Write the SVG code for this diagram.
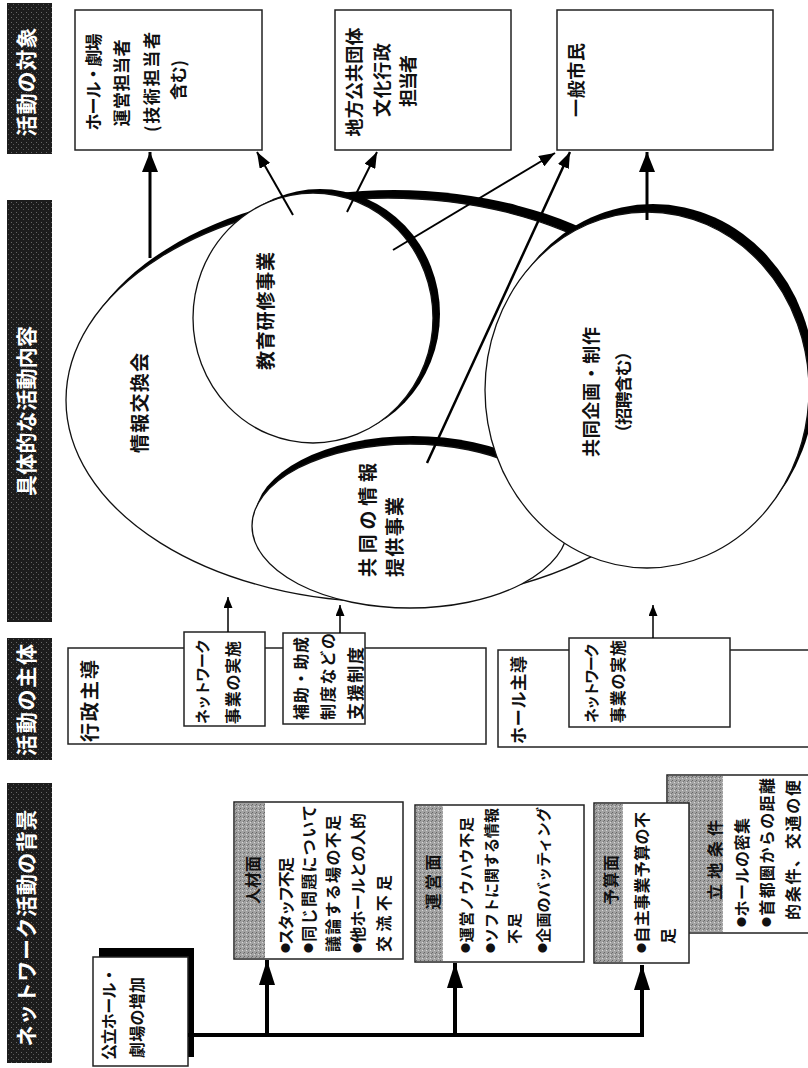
<svg xmlns="http://www.w3.org/2000/svg" width="808" height="1068" viewBox="0 0 808 1068">
<style>
.t{font-family:"Noto Sans CJK JP","Noto Sans CJK SC",sans-serif;fill:#111;dominant-baseline:central;font-weight:bold}
.h{font-size:21px;fill:#fff}
.f19{font-size:19px}
.f18{font-size:18px}
.f17{font-size:17px}
.f16{font-size:16px}
.f15{font-size:15px}
.bu{font-size:10px}
.box{fill:#fff;stroke:#222;stroke-width:1.5}
.el{fill:#fff;stroke:#111;stroke-width:1.3}
.sh{fill:#000}
.ln{stroke:#000;fill:none}
.hdr{fill:url(#dark)}
.strip{fill:url(#gray)}
</style>
<defs>
<pattern id="dark" width="5" height="5" patternUnits="userSpaceOnUse"><rect width="5" height="5" fill="#1c1c1c"/><rect x="1" y="2" width="1" height="1" fill="#666"/><rect x="3" y="4" width="1" height="1" fill="#555"/></pattern>
<pattern id="gray" width="4" height="4" patternUnits="userSpaceOnUse"><rect width="4" height="4" fill="#a2a2a2"/><rect x="0" y="0" width="1" height="1" fill="#666"/><rect x="2" y="2" width="1" height="1" fill="#d8d8d8"/><rect x="3" y="1" width="1" height="1" fill="#777"/></pattern>
<marker id="a1" viewBox="0 0 20 16" refX="20" refY="8" markerWidth="20" markerHeight="16" markerUnits="userSpaceOnUse" orient="auto"><path d="M0,0L20,8L0,16z"/></marker>
<marker id="a2" viewBox="0 0 16 12" refX="16" refY="6" markerWidth="16" markerHeight="12" markerUnits="userSpaceOnUse" orient="auto"><path d="M0,0L16,6L0,12z"/></marker>
<marker id="a3" viewBox="0 0 11 9" refX="11" refY="4.5" markerWidth="11" markerHeight="9" markerUnits="userSpaceOnUse" orient="auto"><path d="M0,0L11,4.5L0,9z"/></marker>
<marker id="a4" viewBox="0 0 25 16" refX="25" refY="8" markerWidth="25" markerHeight="16" markerUnits="userSpaceOnUse" orient="auto"><path d="M0,0L25,8L0,16z"/></marker>
</defs>

<g id="headers">
<rect class="hdr" x="7" y="3" width="45" height="151"/>
<rect class="hdr" x="7" y="200" width="45" height="422"/>
<rect class="hdr" x="7" y="638" width="45" height="122"/>
<rect class="hdr" x="7" y="783" width="45" height="280"/>
<text class="t h" transform="translate(25 82) rotate(-90)" text-anchor="middle" textLength="109" lengthAdjust="spacing">活動の対象</text>
<text class="t h" transform="translate(25 411) rotate(-90)" text-anchor="middle" textLength="170" lengthAdjust="spacing">具体的な活動内容</text>
<text class="t h" transform="translate(25 700) rotate(-90)" text-anchor="middle" textLength="112" lengthAdjust="spacing">活動の主体</text>
<text class="t h" transform="translate(25 928) rotate(-90)" text-anchor="middle" textLength="237" lengthAdjust="spacing">ネットワーク活動の背景</text>
</g>

<g id="target-hall">
<rect class="box" x="75" y="10" width="187" height="140"/>
<text class="t f17" transform="translate(92 82) rotate(-90)" text-anchor="middle" textLength="97" lengthAdjust="spacing">ホール・劇場</text>
<text class="t f17" transform="translate(120 83) rotate(-90)" text-anchor="middle" textLength="87" lengthAdjust="spacing">運営担当者</text>
<text class="t f17" transform="translate(150 82) rotate(-90)" text-anchor="middle" textLength="100" lengthAdjust="spacing">(技術担当者</text>
<text class="t f17" transform="translate(177 80) rotate(-90)" text-anchor="middle" textLength="40" lengthAdjust="spacing">含む)</text>
</g>
<g id="target-gov">
<rect class="box" x="335" y="10" width="176" height="140"/>
<text class="t f18" transform="translate(353 82) rotate(-90)" text-anchor="middle" textLength="109" lengthAdjust="spacing">地方公共団体</text>
<text class="t f18" transform="translate(381 80) rotate(-90)" text-anchor="middle" textLength="74" lengthAdjust="spacing">文化行政</text>
<text class="t f18" transform="translate(407 81) rotate(-90)" text-anchor="middle" textLength="52" lengthAdjust="spacing">担当者</text>
</g>
<g id="target-public">
<rect class="box" x="557" y="10" width="216" height="140"/>
<text class="t f18" transform="translate(575 80) rotate(-90)" text-anchor="middle" textLength="74" lengthAdjust="spacing">一般市民</text>
</g>

<g id="exchange">
<ellipse class="sh" cx="394" cy="392" rx="322" ry="202"/>
<ellipse class="el" cx="388" cy="400" rx="322" ry="202"/>
<text class="t f19" transform="translate(138 403) rotate(-90)" text-anchor="middle" textLength="100" lengthAdjust="spacing">情報交換会</text>
</g>
<g id="training">
<ellipse class="sh" cx="320" cy="314" rx="120" ry="125"/>
<ellipse class="el" cx="313" cy="318" rx="120" ry="125"/>
<text class="t f19" transform="translate(264 311) rotate(-90)" text-anchor="middle" textLength="118" lengthAdjust="spacing">教育研修事業</text>
</g>
<g id="info">
<ellipse class="sh" cx="413" cy="518" rx="158" ry="82"/>
<ellipse class="el" cx="410" cy="526" rx="158" ry="82"/>
<text class="t f19" transform="translate(366 577) rotate(-90)" textLength="114" lengthAdjust="spacing">共同の情報</text>
<text class="t f19" transform="translate(393 577) rotate(-90)" textLength="80" lengthAdjust="spacing">提供事業</text>
</g>
<g id="coproduction">
<ellipse class="sh" cx="653" cy="382" rx="162" ry="178"/>
<ellipse class="el" cx="647" cy="390" rx="162" ry="178"/>
<text class="t f18" transform="translate(590 392) rotate(-90)" text-anchor="middle" textLength="130" lengthAdjust="spacing">共同企画・制作</text>
<text class="t f17" transform="translate(622 392) rotate(-90)" text-anchor="middle" textLength="98" lengthAdjust="spacing">（招聘含む）</text>
</g>

<g id="gov-led">
<rect class="box" x="68" y="648" width="418" height="96"/>
<text class="t f19" transform="translate(88 742) rotate(-90)" textLength="82" lengthAdjust="spacing">行政主導</text>
</g>
<g id="gov-network">
<rect class="box" x="184" y="632" width="81" height="94"/>
<text class="t f15" transform="translate(201 724) rotate(-90)" textLength="85" lengthAdjust="spacing">ネットワーク</text>
<text class="t f16" transform="translate(232 724) rotate(-90)" textLength="83" lengthAdjust="spacing">事業の実施</text>
</g>
<g id="gov-support">
<rect class="box" x="283" y="633" width="82" height="91"/>
<text class="t f16" transform="translate(300 720) rotate(-90)" textLength="83" lengthAdjust="spacing">補助・助成</text>
<text class="t f16" transform="translate(327 720) rotate(-90)" textLength="87" lengthAdjust="spacing">制度などの</text>
<text class="t f17" transform="translate(354 720) rotate(-90)" textLength="73" lengthAdjust="spacing">支援制度</text>
</g>
<g id="hall-led">
<rect class="box" x="498" y="650" width="320" height="97"/>
<text class="t f17" transform="translate(517 744) rotate(-90)" textLength="88" lengthAdjust="spacing">ホール主導</text>
</g>
<g id="hall-network">
<rect class="box" x="569" y="638" width="161" height="89"/>
<text class="t f15" transform="translate(590 723) rotate(-90)" textLength="80" lengthAdjust="spacing">ネットワーク</text>
<text class="t f16" transform="translate(617 723) rotate(-90)" textLength="83" lengthAdjust="spacing">事業の実施</text>
</g>

<g id="increase">
<rect class="sh" x="99" y="948" width="95" height="109"/>
<rect class="box" x="93" y="957" width="95" height="109"/>
<text class="t f16" transform="translate(108 1060) rotate(-90)" textLength="93" lengthAdjust="spacing">公立ホール・</text>
<text class="t f16" transform="translate(136 1058) rotate(-90)" textLength="81" lengthAdjust="spacing">劇場の増加</text>
</g>
<g id="human">
<rect class="box" x="234" y="802" width="169" height="157"/>
<rect class="strip" x="235" y="803" width="30" height="155"/>
<text class="t f16" transform="translate(252 880) rotate(-90)" text-anchor="middle" textLength="48" lengthAdjust="spacing">人材面</text>
<text class="t f16" transform="translate(285 953) rotate(-90)" textLength="96" lengthAdjust="spacing"><tspan class="bu">●</tspan>スタッフ不足</text>
<text class="t f16" transform="translate(308 953) rotate(-90)" textLength="148" lengthAdjust="spacing"><tspan class="bu">●</tspan>同じ問題について</text>
<text class="t f16" transform="translate(332 952) rotate(-90)" textLength="137" lengthAdjust="spacing">議論する場の不足</text>
<text class="t f16" transform="translate(357 953) rotate(-90)" textLength="140" lengthAdjust="spacing"><tspan class="bu">●</tspan>他ホールとの人的</text>
<text class="t f16" transform="translate(383 952) rotate(-90)" textLength="77" lengthAdjust="spacing">交流不足</text>
</g>
<g id="operation">
<rect class="box" x="415" y="805" width="169" height="157"/>
<rect class="strip" x="416" y="806" width="27" height="155"/>
<text class="t f16" transform="translate(432 882) rotate(-90)" text-anchor="middle" textLength="55" lengthAdjust="spacing">運営面</text>
<text class="t f15" transform="translate(465 953) rotate(-90)" textLength="136" lengthAdjust="spacing"><tspan class="bu">●</tspan>運営ノウハウ不足</text>
<text class="t f15" transform="translate(490 953) rotate(-90)" textLength="145" lengthAdjust="spacing"><tspan class="bu">●</tspan>ソフトに関する情報</text>
<text class="t f15" transform="translate(513 944) rotate(-90)" textLength="31" lengthAdjust="spacing">不足</text>
<text class="t f15" transform="translate(542 953) rotate(-90)" textLength="146" lengthAdjust="spacing"><tspan class="bu">●</tspan>企画のバッティング</text>
</g>
<g id="location">
<rect class="box" x="667" y="775" width="150" height="158"/>
<rect class="strip" x="668" y="776" width="55" height="156"/>
<text class="t f16" transform="translate(714 860) rotate(-90)" text-anchor="middle" textLength="80" lengthAdjust="spacing">立地条件</text>
<text class="t f16" transform="translate(741 927) rotate(-90)" textLength="109" lengthAdjust="spacing"><tspan class="bu">●</tspan>ホールの密集</text>
<text class="t f16" transform="translate(766 927) rotate(-90)" textLength="149" lengthAdjust="spacing"><tspan class="bu">●</tspan>首都圏からの距離</text>
<text class="t f16" transform="translate(792 920) rotate(-90)" textLength="140" lengthAdjust="spacing">的条件、交通の便</text>
</g>
<g id="budget">
<rect class="box" x="594" y="803" width="95" height="160"/>
<rect class="strip" x="595" y="804" width="28" height="158"/>
<text class="t f16" transform="translate(610 880) rotate(-90)" text-anchor="middle" textLength="50" lengthAdjust="spacing">予算面</text>
<text class="t f16" transform="translate(641 953) rotate(-90)" textLength="141" lengthAdjust="spacing"><tspan class="bu">●</tspan>自主事業予算の不</text>
<text class="t f16" transform="translate(667 944) rotate(-90)" textLength="15" lengthAdjust="spacing">足</text>
</g>

<g id="connectors">
<path class="ln" stroke-width="3" d="M150,258V152" marker-end="url(#a1)"/>
<path class="ln" stroke-width="2" d="M293,215L257,152" marker-end="url(#a2)"/>
<path class="ln" stroke-width="2" d="M347,212L377,152" marker-end="url(#a2)"/>
<path class="ln" stroke-width="2" d="M393,250L555,153" marker-end="url(#a2)"/>
<path class="ln" stroke-width="2.5" d="M427,463L570,152" marker-end="url(#a2)"/>
<path class="ln" stroke-width="3" d="M647,220V152" marker-end="url(#a1)"/>
<path class="ln" stroke-width="1.5" d="M228,632V597" marker-end="url(#a3)"/>
<path class="ln" stroke-width="1.5" d="M340,633V605" marker-end="url(#a3)"/>
<path class="ln" stroke-width="1.5" d="M653,638V605" marker-end="url(#a3)"/>
<path class="ln" stroke-width="4" d="M188,1035H644"/>
<path class="ln" stroke-width="4" d="M267,1037V960" marker-end="url(#a4)"/>
<path class="ln" stroke-width="4" d="M455,1037V963" marker-end="url(#a4)"/>
<path class="ln" stroke-width="4" d="M642,1037V965" marker-end="url(#a4)"/>
</g>
</svg>
